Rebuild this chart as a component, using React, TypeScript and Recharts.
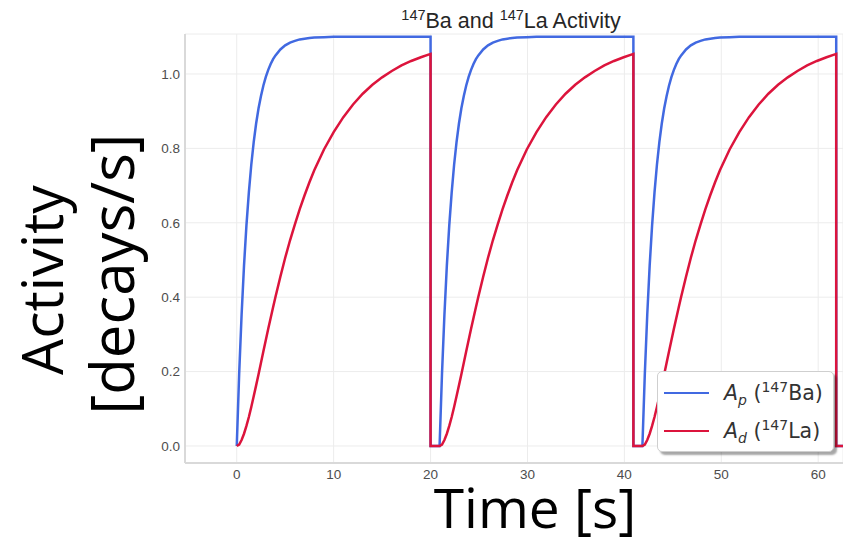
import { LineChart, Line, XAxis, YAxis, CartesianGrid } from "recharts";

// one irradiation cycle, time relative to cycle start [s]
const CYCLE_TIMES = [
    0, 0.25, 0.5, 0.75, 1, 1.25, 1.5, 1.75, 2, 2.25, 2.5, 2.75, 3, 3.25, 3.5, 3.75, 4, 4.5, 5, 5.5, 6, 6.5, 7, 7.5, 8, 9, 10,
    11, 12, 13, 14, 15, 16, 17, 18, 19, 20,
];
const BA_ACTIVITY = [
    0, 0.194, 0.353, 0.485, 0.593, 0.682, 0.756, 0.817, 0.867, 0.908, 0.941, 0.969, 0.992, 1.011, 1.027, 1.04, 1.05, 1.066,
    1.077, 1.0845, 1.089, 1.093, 1.095, 1.0967, 1.098, 1.099, 1.1, 1.1, 1.1, 1.1, 1.1, 1.1, 1.1, 1.1, 1.1, 1.1, 1.1,
];
const LA_ACTIVITY = [
    0, 0.004, 0.016, 0.033, 0.054, 0.078, 0.105, 0.134, 0.163, 0.193, 0.224, 0.255, 0.285, 0.315, 0.344, 0.373, 0.401, 0.455,
    0.506, 0.553, 0.596, 0.637, 0.674, 0.709, 0.741, 0.797, 0.844, 0.884, 0.918, 0.947, 0.971, 0.991, 1.008, 1.023, 1.035,
    1.045, 1.054,
];
const CYCLE_STARTS = [0, 20.93, 41.86];
const DROP_TIME = 20;
const END_TIME = 62.79;

const X_TICKS = [0, 10, 20, 30, 40, 50, 60];
const Y_TICKS = [0, 0.2, 0.4, 0.6, 0.8, 1.0];

const BLUE = "#4169e1";
const RED = "#dc143c";

const data: { t: number; ba: number; la: number }[] = [];
CYCLE_STARTS.forEach((start) => {
    CYCLE_TIMES.forEach((t, i) => {
        data.push({ t: start + t, ba: BA_ACTIVITY[i], la: LA_ACTIVITY[i] });
    });
    data.push({ t: start + DROP_TIME, ba: 0, la: 0 });
});
data.push({ t: END_TIME, ba: 0, la: 0 });

const SPINE = "#d9d9d9";
const tickStyle = { fill: "#4d4d4d", fontSize: 13.5, fontFamily: "Liberation Sans, Arial, sans-serif" };
const bigFont = "'Open Sans', 'Noto Sans', sans-serif";

const LegendRow = ({ color, sub, nuc }: { color: string; sub: string; nuc: string }) => (
    <div style={{ display: "flex", alignItems: "center", height: 38 }}>
        <span style={{ width: 45, height: 2.5, background: color, marginLeft: 6, marginRight: 15 }} />
        <span style={{ fontSize: 20.5, color: "#333", fontFamily: "'DejaVu Sans', sans-serif", whiteSpace: "nowrap" }}>
            <i>A</i>
            <sub style={{ fontSize: 14, fontStyle: "italic" }}>{sub}</sub> (<sup style={{ fontSize: 14 }}>147</sup>
            {nuc})
        </span>
    </div>
);

export default function App() {
    return (
        <div style={{ position: "absolute", left: 0, top: 0, width: 843, height: 542, overflow: "hidden", background: "#fff" }}>
            <LineChart width={843} height={542} data={data} margin={{ top: 34, right: 0, left: 145, bottom: 49 }}>
                <CartesianGrid stroke="#ececec" strokeWidth={1} />
                <XAxis
                    dataKey="t"
                    type="number"
                    domain={[-5.34, 62.56]}
                    ticks={X_TICKS}
                    allowDataOverflow
                    tickLine={false}
                    tickSize={0}
                    tickMargin={6}
                    height={30}
                    axisLine={{ stroke: SPINE, strokeWidth: 2 }}
                    tick={tickStyle}
                />
                <XAxis
                    xAxisId="top"
                    orientation="top"
                    dataKey="t"
                    type="number"
                    domain={[-5.34, 62.56]}
                    height={0}
                    tick={false}
                    tickLine={false}
                    axisLine={{ stroke: SPINE, strokeWidth: 2 }}
                />
                <YAxis
                    type="number"
                    domain={[-0.0457, 1.1075]}
                    ticks={Y_TICKS}
                    allowDataOverflow
                    width={40}
                    tickLine={false}
                    tickSize={0}
                    tickMargin={5}
                    tickFormatter={(v: number) => v.toFixed(1)}
                    axisLine={{ stroke: SPINE, strokeWidth: 2 }}
                    tick={tickStyle}
                />
                <Line type="linear" dataKey="ba" stroke={BLUE} strokeWidth={2.5} dot={false} isAnimationActive={false} />
                <Line type="linear" dataKey="la" stroke={RED} strokeWidth={2.5} dot={false} isAnimationActive={false} />
            </LineChart>

            <svg width={843} height={542} style={{ position: "absolute", left: 0, top: 0, pointerEvents: "none" }}>
                <text x={511} y={28} textAnchor="middle" fontSize={21.5} fill="#262626" fontFamily="Liberation Sans, Arial, sans-serif">
                    <tspan fontSize={14.5} dy={-8}>147</tspan>
                    <tspan dy={8}>Ba and </tspan>
                    <tspan fontSize={14.5} dy={-8}>147</tspan>
                    <tspan dy={8}>La Activity</tspan>
                </text>
                <text x={535} y={528} textAnchor="middle" fontSize={55} fill="#000" fontFamily={bigFont}>
                    Time [s]
                </text>
                <text transform="translate(63,280) rotate(-90)" textAnchor="middle" fontSize={57} fill="#000" fontFamily={bigFont}>
                    Activity
                </text>
                <text transform="translate(134,274) rotate(-90)" textAnchor="middle" fontSize={60} fill="#000" fontFamily={bigFont}>
                    [decays/s]
                </text>
            </svg>

            <div
                style={{
                    position: "absolute",
                    left: 657,
                    top: 371,
                    width: 177,
                    height: 81,
                    boxSizing: "border-box",
                    background: "#fff",
                    border: "1px solid #cfcfcf",
                    borderRadius: 5,
                    boxShadow: "3px 3px 2px rgba(0,0,0,0.35)",
                    paddingTop: 2,
                }}
            >
                <LegendRow color={BLUE} sub="p" nuc="Ba" />
                <LegendRow color={RED} sub="d" nuc="La" />
            </div>
        </div>
    );
}
